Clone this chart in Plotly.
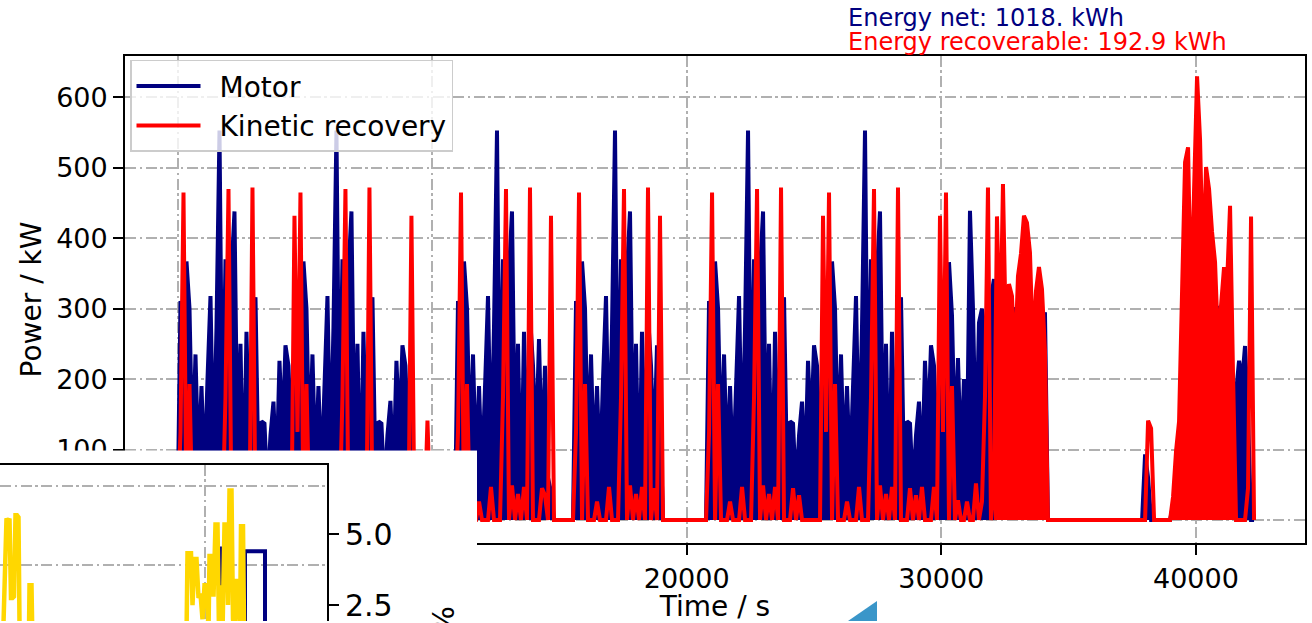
import plotly.graph_objects as go

FONT = "DejaVu Sans"
NAVY = "#000080"
RED = "#ff0000"
GOLD = "#ffd700"
GRID = "#b0b0b0"
DASHDOT = "11px,3.5px,2.5px,3.5px"

DT = 117.8  # s between digitised samples

motor_block_start_s = [0, 10900, 15535, 20760, 37886, 38985]
motor_a = [0, 311, 100, 367, 300, 90, 235, 70, 190, 60, 200, 318, 80, 274, 553, 100, 370, 150, 352, 438,
           90, 250, 20, 267, 80, 290, 316, 60, 140, 137, 40, 120, 168, 60, 226, 120, 248, 219, 100,
           180, 311, 100, 367, 300, 90, 235, 70, 190, 60, 200, 318, 80, 274, 553, 100, 370, 150, 352, 438,
           90, 250, 20, 267, 80, 290, 316, 60, 140, 137, 40, 120, 169, 60, 226, 120, 248, 219, 100, 150, 0]
motor_b1 = [0, 311, 100, 367, 300, 90, 235, 70, 190, 60, 200, 318, 80, 274, 553, 100, 370, 150, 352, 438,
            90, 250, 20, 267, 80, 290, 219, 100, 257, 80, 219, 60, 40, 0]
motor_b2 = [0, 311, 100, 367, 300, 90, 235, 70, 190, 60, 200, 318, 80, 274, 553, 100, 370, 150, 352, 438,
            90, 250, 20, 267, 80, 290, 219, 90, 248, 150, 0]
motor_cd = [0, 311, 100, 367, 300, 90, 235, 70, 190, 60, 200, 318, 80, 274, 553, 100, 370, 150, 352, 438,
            90, 250, 20, 267, 80, 290, 316, 60, 140, 137, 40, 120, 168, 60, 226, 120, 248, 219, 100,
            180, 311, 100, 367, 300, 90, 235, 70, 190, 60, 200, 318, 80, 274, 553, 100, 370, 150, 352, 438,
            90, 250, 20, 267, 80, 290, 316, 60, 140, 137, 40, 120, 168, 60, 226, 120, 248, 219, 100,
            220, 250, 100, 366, 290, 100, 230, 80, 200, 90, 439, 300, 90, 280, 300, 267, 150, 316, 342, 100,
            320, 150, 300, 320, 250, 302, 200, 302, 150, 302, 250, 302, 250, 295, 200, 295, 0]
motor_blip = [0, 93, 60, 0]
motor_e = [0, 21, 60, 97, 250, 366, 300, 250, 280, 318, 318, 250, 280, 200, 250, 148, 304, 250, 200, 250,
           316, 97, 180, 226, 196, 247, 150, 0, 0]

recovery_block_start_s = [0, 9700, 10900, 15535, 20760, 37886, 38985]
recovery_a = [0, 125, 465, 0, 193, 0, 0, 0, 26, 0, 0, 0, 47, 0, 0, 0, 175, 470, 0, 49,
              0, 37, 0, 47, 0, 472, 0, 0, 0, 45, 0, 35, 0, 0, 0, 0, 0, 0, 0,
              432, 125, 465, 0, 193, 0, 0, 0, 26, 0, 0, 0, 47, 0, 0, 0, 175, 470, 0, 49,
              0, 37, 0, 47, 0, 472, 0, 0, 0, 45, 0, 35, 0, 0, 0, 0, 0, 0, 0, 432, 0]
recovery_blip_a = [0, 141, 0]
recovery_b1 = [0, 125, 465, 0, 193, 0, 0, 0, 26, 0, 0, 0, 47, 0, 0, 0, 175, 470, 0, 49,
               0, 37, 0, 47, 0, 472, 0, 0, 0, 45, 35, 0, 432, 0]
recovery_b2 = [0, 125, 465, 0, 193, 0, 0, 0, 26, 0, 0, 0, 47, 0, 0, 0, 175, 470, 0, 49,
               0, 37, 0, 47, 0, 472, 0, 45, 0, 432, 0]
recovery_cd = [0, 125, 465, 0, 193, 0, 0, 0, 26, 0, 0, 0, 47, 0, 0, 0, 175, 470, 0, 49,
               0, 37, 0, 47, 0, 472, 0, 0, 0, 45, 0, 35, 0, 0, 0, 0, 0, 0, 0,
               432, 125, 465, 0, 193, 0, 0, 0, 26, 0, 0, 0, 47, 0, 0, 0, 175, 470, 0, 49,
               0, 37, 0, 47, 0, 472, 0, 0, 0, 45, 0, 35, 0, 47, 0, 0, 0, 47, 0,
               432, 125, 465, 0, 190, 0, 28, 0, 0, 26, 0, 0, 52, 0, 26, 175, 472, 0, 45,
               431, 230, 477, 250, 335, 318, 220, 346, 378, 432, 422, 380, 240, 325, 359, 328, 240, 0]
recovery_blip = [0, 0, 141, 130, 0]
recovery_e = [0, 33, 98, 140, 337, 508, 529, 300, 467, 630, 540, 352, 501, 470, 409, 366, 250, 300, 359,
              335, 446, 205, 0, 0, 0, 0, 45, 431, 0]

energy_net_kwh = "1018."
energy_recoverable_kwh = "192.9"

x_tick_vals = [0, 10000, 20000, 30000, 40000]
y_tick_vals = [0, 100, 200, 300, 400, 500, 600]

# ---------------- inset data ----------------
inset_yellow_x = [2, 4, 5, 6.5, 8, 9.5, 11, 12.5, 14, 15.5, 17, 18.5, 20, 28.5, 29.5, 31.5, 33,
                  186, 187.5, 191, 192.5, 194.5, 196.5, 198.5, 200.5, 202.5, 204.5, 207, 208.5, 209.5,
                  211.5, 213.5, 215.5, 217.5, 219, 220.5, 222.5, 224.5, 226.5, 228, 229.5, 231.5, 233,
                  234.5, 236.5, 238.5, 240, 241, 243, 244.5]
inset_yellow_pct = [0, 2.64, 2.64, 5.56, 5.45, 5.56, 2.75, 2.75, 2.8, 5.67, 5.67, 5.6, 0, 0, 3.2, 3.2, 0,
                    0, 4.33, 4.33, 2.5, 4.13, 4.13, 2.75, 2.9, 2.0, 3.2, 3.2, 1.5, 4.23,
                    4.23, 2.8, 5.35, 5.35, 1.5, 3.2, 1.5, 5.35, 5.35, 2.5, 6.55, 6.55, 2.0,
                    1.5, 3.35, 3.35, 1.5, 5.28, 5.28, 0]
inset_navy_x = [200, 219.5, 219.5, 221, 221, 245, 245, 265, 265, 300]
inset_navy_pct = [0, 0, 4.5, 4.5, 0, 0, 4.4, 4.4, 0, 0]
inset_right_ticks = [2.5, 5.0]


def build(starts, blocks):
    t, v = [], []
    for s, vals in zip(starts, blocks):
        for i, val in enumerate(vals):
            t.append(s + i * DT)
            v.append(val)
    return t, v


motor_t, motor_kw = build(motor_block_start_s,
                          [motor_a, motor_b1, motor_b2, motor_cd, motor_blip, motor_e])
rec_t, rec_kw = build(recovery_block_start_s,
                      [recovery_a, recovery_blip_a, recovery_b1, recovery_b2, recovery_cd,
                       recovery_blip, recovery_e])
# dense recovery stretches (appear solid in the original)
dense_t, dense_kw = build([recovery_block_start_s[4] + 96 * DT, recovery_block_start_s[6]],
                          [recovery_cd[96:], recovery_e[:23]])

W, H = 1312, 623
INSET_DOM_Y = [0, (H - 466) / H]
GAP = "\u2002"  # spacing between legend line and label

fig = go.Figure()
fig.add_trace(go.Scatter(x=motor_t, y=motor_kw, mode="lines", line=dict(width=0, color=NAVY),
                         fill="tozeroy", fillcolor=NAVY, showlegend=False, hoverinfo="skip"))
fig.add_trace(go.Scatter(x=motor_t, y=motor_kw, mode="lines", name=GAP + "Motor",
                         line=dict(width=4, color=NAVY)))
fig.add_trace(go.Scatter(x=rec_t, y=rec_kw, mode="lines", name=GAP + "Kinetic recovery",
                         line=dict(width=4, color=RED)))
fig.add_trace(go.Scatter(x=dense_t, y=dense_kw, mode="lines", line=dict(width=0, color=RED),
                         fill="tozeroy", fillcolor=RED, showlegend=False, hoverinfo="skip"))

# cover panel (white window lying over the lower-left of the chart)
fig.add_trace(go.Scatter(x=[], y=[], xaxis="x2", yaxis="y2", showlegend=False))

# inset panel
fig.add_trace(go.Scatter(x=[], y=[], xaxis="x3", yaxis="y3", showlegend=False))
fig.add_trace(go.Scatter(x=inset_navy_x, y=inset_navy_pct, xaxis="x3", yaxis="y4", mode="lines",
                         line=dict(width=4, color=NAVY), showlegend=False))
fig.add_trace(go.Scatter(x=inset_yellow_x, y=inset_yellow_pct, xaxis="x3", yaxis="y4", mode="lines",
                         line=dict(width=4.5, color=GOLD), showlegend=False))

axis_common = dict(showline=True, linecolor="black", linewidth=1.8, mirror=True,
                   ticks="outside", ticklen=10, tickwidth=1.8, tickcolor="black",
                   showgrid=True, gridcolor=GRID, gridwidth=1.6, griddash=DASHDOT,
                   zeroline=False, tickfont=dict(size=27, family=FONT, color="black"))

fig.update_layout(
    width=W, height=H, margin=dict(l=0, r=0, t=0, b=0),
    paper_bgcolor="white", plot_bgcolor="white",
    font=dict(family=FONT, color="black"),
    xaxis=dict(domain=[125 / W, 1305 / W], range=[-2062, 44285], anchor="y",
               tickvals=x_tick_vals, ticktext=[str(v) for v in x_tick_vals],
               title=dict(text="Time / s", font=dict(size=28, family=FONT), standoff=7),
               **axis_common),
    yaxis=dict(domain=[(H - 545) / H, (H - 56) / H], range=[-33.1, 659], anchor="x",
               tickvals=y_tick_vals, ticktext=[str(v) for v in y_tick_vals],
               title=dict(text="Power / kW", font=dict(size=28, family=FONT), standoff=6),
               **axis_common),
    xaxis2=dict(domain=[0, 477 / W], range=[0, 1], anchor="y2", visible=False),
    yaxis2=dict(domain=[0, (H - 452) / H], range=[0, 1], anchor="x2", visible=False),
    xaxis3=dict(domain=[0, 327 / W], range=[0, 327], anchor="y3", side="top",
                showline=True, linecolor="black", linewidth=2, ticks="", showticklabels=False,
                showgrid=True, gridcolor=GRID, gridwidth=1.6, griddash=DASHDOT,
                tickvals=[205], zeroline=False),
    yaxis3=dict(domain=INSET_DOM_Y, range=[25.82, 65.57], anchor="x3",
                showline=False, ticks="", showticklabels=False, tickvals=[40, 60],
                showgrid=True, gridcolor=GRID, gridwidth=1.6, griddash=DASHDOT, zeroline=False),
    yaxis4=dict(overlaying="y3", anchor="x3", side="right", domain=INSET_DOM_Y, range=[1.937, 7.465],
                tickvals=inset_right_ticks, ticktext=["%.1f" % v for v in inset_right_ticks],
                ticks="outside", ticklen=10, tickwidth=2, tickcolor="black",
                showline=True, linecolor="black", linewidth=2, showgrid=False, zeroline=False,
                ticklabeloverflow="allow",
                tickfont=dict(size=30, family=FONT, color="black")),
    legend=dict(x=130 / W, y=1 - 60 / H, xanchor="left", yanchor="top",
                bgcolor="rgba(255,255,255,0.8)", bordercolor="#cccccc", borderwidth=1.5,
                font=dict(size=28, family=FONT, color="black"), itemwidth=64),
    showlegend=True,
    annotations=[
        dict(xref="paper", yref="paper", x=846 / W, y=1 - 18 / H, xanchor="left", yanchor="middle",
             text="Energy net: %s kWh" % energy_net_kwh, showarrow=False,
             font=dict(size=24, family=FONT, color=NAVY)),
        dict(xref="paper", yref="paper", x=846 / W, y=1 - 42 / H, xanchor="left", yanchor="middle",
             text="Energy recoverable: %s kWh" % energy_recoverable_kwh, showarrow=False,
             font=dict(size=24, family=FONT, color=RED)),
        dict(xref="paper", yref="paper", x=444 / W, y=(H - 606) / H, xanchor="center", yanchor="top",
             text="%", textangle=-90, showarrow=False,
             font=dict(size=30, family=FONT, color="black")),
    ],
    shapes=[
        dict(type="path", xref="paper", yref="paper", layer="above",
             path="M %f,0 L %f,%f L %f,0 Z" % (848 / W, 877 / W, (H - 603) / H, 877 / W),
             fillcolor="#3a96c9", line=dict(width=0)),
    ],
)

fig.write_html("out.html")
